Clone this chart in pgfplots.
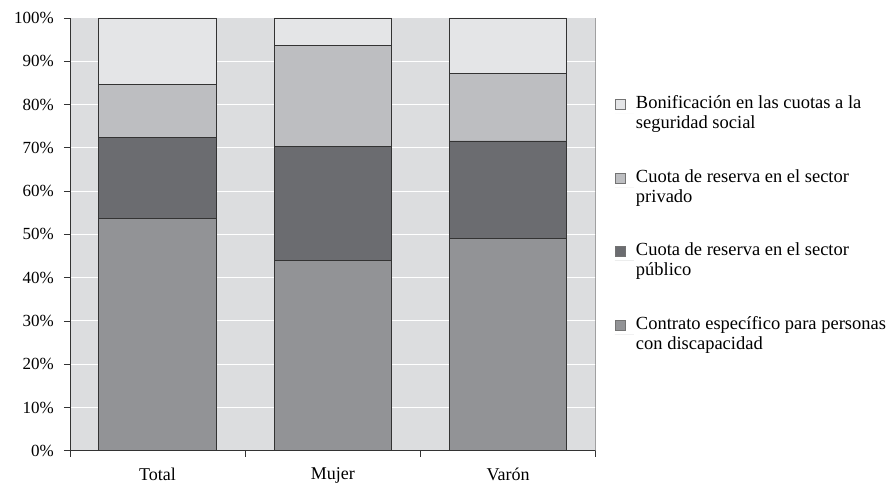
\documentclass[border=0pt]{standalone}
\usepackage{fontspec}
\setmainfont{Liberation Serif}
\usepackage{pgfplots}
\pgfplotsset{compat=1.18}

\definecolor{bgcol}{HTML}{DCDDDF}
\definecolor{ccontrato}{HTML}{929396}
\definecolor{cpublico}{HTML}{6B6C70}
\definecolor{cprivado}{HTML}{BDBEC1}
\definecolor{cbonif}{HTML}{E4E5E7}

\begin{document}
\fontsize{18}{20}\selectfont
\begin{tikzpicture}
\begin{axis}[
  name=ax,
  scale only axis, width=526pt, height=433pt,
  ybar stacked, bar width=0.67,
  xmin=-0.5, xmax=2.5, ymin=0, ymax=100,
  xtick={0,1,2}, xticklabels={Total,Mujer,Varón},
  minor xtick={-0.5,0.5,1.5,2.5},
  ytick={0,10,...,100},
  yticklabel={\pgfmathprintnumber{\tick}\%},
  /pgf/number format/assume math mode=true,
  y tick label style={font=\fontsize{17}{19}\selectfont, xshift=-4pt},
  x tick label style={font=\fontsize{18}{20}\selectfont, yshift=-5pt},
  tick align=outside,
  major x tick style={draw=none},
  major tick length=6pt, minor tick length=6pt,
  tick style={black!80, line width=0.8pt},
  axis x line*=bottom, axis y line*=left,
  axis line style={black!80, line width=0.8pt},
  axis background/.style={fill=bgcol},
  ymajorgrids, grid style={white, line width=1pt},
  reverse legend,
  legend style={draw=none, fill=none, at={(1.03,0.83)}, anchor=north west,
    row sep=34pt, cells={anchor=west, align=left},
    font=\fontsize{18.5}{20}\selectfont},
  every axis plot post/.append style={
    legend image code/.code={\draw[#1, draw=black!55, line width=0.6pt] (0pt,4pt) rectangle (10pt,14pt); \path[draw=none] (0pt,0pt) -- (19pt,0pt);}},
]
\addplot[fill=ccontrato, draw=black!80, line width=0.8pt] coordinates {(0,53.6) (1,43.9) (2,49.0)};
\addplot[fill=cpublico, draw=black!80, line width=0.8pt] coordinates {(0,18.8) (1,26.5) (2,22.6)};
\addplot[fill=cprivado, draw=black!80, line width=0.8pt] coordinates {(0,12.3) (1,23.3) (2,15.5)};
\addplot[fill=cbonif, draw=black!80, line width=0.8pt] coordinates {(0,15.3) (1,6.3) (2,12.9)};
\addlegendentry{Contrato específico para personas\\con discapacidad}
\addlegendentry{Cuota de reserva en el sector\\público}
\addlegendentry{Cuota de reserva en el sector\\privado}
\addlegendentry{Bonificación en las cuotas a la\\seguridad social}
\draw[black!50, line width=0.8pt] (rel axis cs:1,0) -- (rel axis cs:1,1);
\end{axis}
\path (ax.south west) ++(-70pt,-36pt) rectangle ++(891pt,487pt);
\end{tikzpicture}
\end{document}
